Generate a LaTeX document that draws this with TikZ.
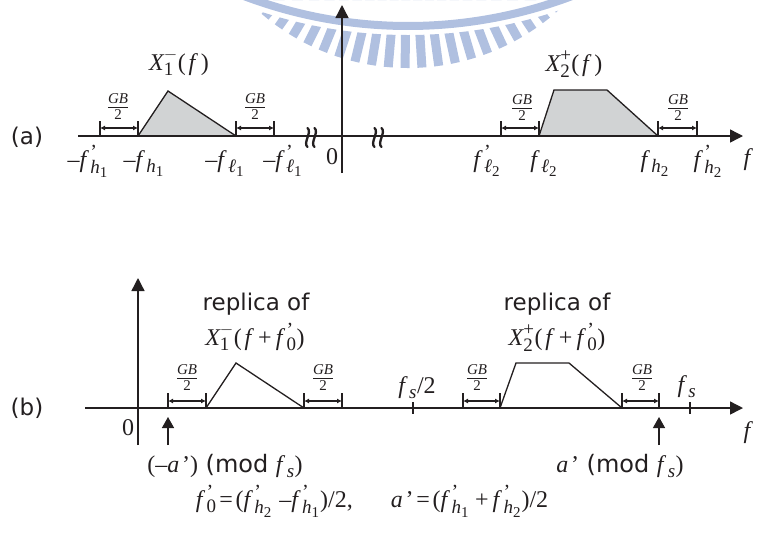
\documentclass[tikz,border=0pt]{standalone}
\usepackage[no-math]{fontspec}
\setmainfont{DejaVu Sans}
\newfontfamily\tmsfam{Liberation Serif}[NFSSFamily=ltms]
\DeclareSymbolFont{letters}{TU}{ltms}{m}{it}
\DeclareSymbolFont{operators}{TU}{ltms}{m}{n}
\mathcode`/="002F
\mathcode`,="602C
\Umathchardef\myell="0 "1 "2113
\DeclareMathSizes{24}{24}{19}{15}
\DeclareMathSizes{22}{22}{15}{12}
\newcommand\Ff{{f\mkern3mu}}
\newcommand\qq{\lower4pt\hbox{\tmsfam\fontsize{20}{20}\selectfont ’}}
\newcommand\aq{a\mkern2mu\hbox{\tmsfam ’}}
\newcommand\mm{\mathord{\hbox{\tmsfam –}}}
\usetikzlibrary{arrows.meta,calc}
\definecolor{ink}{RGB}{35,31,32}
\definecolor{specgray}{RGB}{209,211,212}
\definecolor{wmblue}{RGB}{176,192,224}
\begin{document}
\begin{tikzpicture}[x=1pt,y=-1pt,
  axisline/.style={draw=ink,line width=1.4pt,-{Triangle[length=13pt,width=13pt]}},
  upar/.style={draw=ink,line width=1.4pt,-{Triangle[length=11pt,width=12pt]}},
  tickmark/.style={draw=ink,line width=1.1pt},
  gbar/.style={draw=ink,line width=1.1pt,{Latex[length=5pt,width=5pt]}-{Latex[length=5pt,width=5pt]}},
  specline/.style={draw=ink,line width=1.3pt,line join=miter},
  brk/.style={draw=ink,line width=2.3pt,line cap=round},
  lbl/.style={anchor=base,inner sep=0pt,text=ink,font=\fontsize{24}{28}\selectfont},
  sanslbl/.style={anchor=base,inner sep=0pt,text=ink,font=\fontsize{23}{27}\selectfont},
  gbl/.style={anchor=base,inner sep=0pt,text=ink,font=\fontsize{22}{26}\selectfont},
  wm/.style={draw=wmblue}
]
\useasboundingbox (0,0) rectangle (760,547);
% ---------- watermark ----------
\coordinate (wb) at (408,-438);
\coordinate (wt) at (408,-157);
\begin{scope}
  \clip (0,0) rectangle (760,547);
  \draw[wm,line width=8pt] ($(wb)+(60:464)$) arc[start angle=60,end angle=120,radius=464];
\end{scope}
\begin{scope}[even odd rule]
  \clip (0,0) rectangle (760,547) (wb) circle[radius=473];
  \foreach \a in {47.75,52.05,...,133}
    \draw[wm,line width=9pt] ($(wt)+(\a:120)$) -- ($(wt)+(\a:225)$);
\end{scope}
% ---------- panel (a) ----------
\filldraw[specline,fill=specgray] (138,136) -- (168,91) -- (236,136) -- cycle;
\filldraw[specline,fill=specgray] (539,136) -- (554,90) -- (607,90) -- (658,136) -- cycle;
\coordinate (aL) at (78,136);
\coordinate (aR) at (743,136);
\coordinate (aB) at (342,173);
\coordinate (aT) at (342,5);
\draw[axisline] (aL) -- (aR);
\draw[axisline] (aB) -- (aT);
\foreach \x in {100,138,236,274,501,539,658,697}
  \draw[tickmark] (\x,121) -- (\x,136);
\draw[gbar] (100,128) -- (138,128);
\draw[gbar] (236,128) -- (274,128);
\draw[gbar] (501,128) -- (539,128);
\draw[gbar] (658,128) -- (697,128);
\foreach \bx in {311,378}
  \foreach \dx in {-3.5,3.5}
    \draw[brk] (\bx+\dx,128) .. controls (\bx+\dx+5,132) and (\bx+\dx-5,143) .. (\bx+\dx,147);
\node[gbl] (ga1) at (118,112) {$\frac{GB}{2}$};
\node[gbl] (ga2) at (255,112) {$\frac{GB}{2}$};
\node[gbl] (ga3) at (522,113) {$\frac{GB}{2}$};
\node[gbl] (ga4) at (678,113) {$\frac{GB}{2}$};
\node[lbl] (xa1) at (179,70) {$X_1^-(\mkern2mu f\mkern4mu)$};
\node[lbl] (xa2) at (574,71) {$X_2^+(\mkern2mu f\mkern4mu)$};
\node[lbl] (la1) at (88,167) {$\mm\Ff^{\qq}_{h_1}$};
\node[lbl] (la2) at (144,167) {$\mm\Ff_{h_1}$};
\node[lbl] (la3) at (225,167) {$\mm\Ff_{\myell_1}$};
\node[lbl] (la4) at (283,167) {$\mm\Ff^{\qq}_{\myell_1}$};
\node[lbl] (la5) at (487,167) {$\Ff^{\qq}_{\myell_2}$};
\node[lbl] (la6) at (544,167) {$\Ff_{\myell_2}$};
\node[lbl] (la7) at (655,167) {$\Ff_{h_2}$};
\node[lbl] (la8) at (708,167) {$\Ff^{\qq}_{h_2}$};
\node[lbl] (la9) at (747,165) {$f$};
\node[lbl] (za) at (332,164) {$0$};
\node[sanslbl] (pa) at (27,144) {(a)};
% ---------- panel (b) ----------
\draw[specline] (206,408) -- (236,363) -- (304,408);
\draw[specline] (500,408) -- (516,363) -- (569,363) -- (622,408);
\coordinate (bL) at (85,408);
\coordinate (bR) at (743,408);
\coordinate (bB) at (138,445);
\coordinate (bT) at (138,278);
\draw[axisline] (bL) -- (bR);
\draw[axisline] (bB) -- (bT);
\foreach \x in {168,206,304,342,463,500,622,659}
  \draw[tickmark] (\x,393) -- (\x,408);
\foreach \x in {413,690}
  \draw[tickmark] (\x,402) -- (\x,414);
\draw[gbar] (168,401) -- (206,401);
\draw[gbar] (304,401) -- (342,401);
\draw[gbar] (463,401) -- (500,401);
\draw[gbar] (622,401) -- (659,401);
\coordinate (u1b) at (168,445);
\coordinate (u1t) at (168,417);
\coordinate (u2b) at (659,445);
\coordinate (u2t) at (659,417);
\draw[upar] (u1b) -- (u1t);
\draw[upar] (u2b) -- (u2t);
\node[gbl] (gb1) at (187,383) {$\frac{GB}{2}$};
\node[gbl] (gb2) at (323,383) {$\frac{GB}{2}$};
\node[gbl] (gb3) at (477,383) {$\frac{GB}{2}$};
\node[gbl] (gb4) at (642,383) {$\frac{GB}{2}$};
\node[sanslbl] (r1) at (256,310) {replica of};
\node[sanslbl] (r2) at (557,310) {replica of};
\node[lbl] (xb1) at (255,345) {$X_1^-(\mkern2mu f\mkern5mu{+}\mkern3mu\Ff^{\qq}_0)$};
\node[lbl] (xb2) at (557,345) {$X_2^+(\mkern2mu f\mkern5mu{+}\mkern3mu\Ff^{\qq}_0)$};
\node[lbl] (fs2) at (417,393) {$\Ff_s/2$};
\node[lbl] (fs) at (687,392) {$\Ff_s$};
\node[lbl] (fb) at (747,438) {$f$};
\node[lbl] (zb) at (128,435) {$0$};
\node[sanslbl] (pb) at (27,415) {(b)};
\node[lbl] (ma1) at (225,472) {$(\mm\aq)$ (mod $\Ff_s)$};
\node[lbl] (ma2) at (620,472) {$\aq$ (mod $\Ff_s)$};
\node[lbl] (eq) at (372,507) {$\Ff^{\qq}_0\mkern2mu{=}\mkern2mu(\Ff^{\qq}_{h_2}\mkern5mu\mm\Ff^{\qq}_{h_1})/2,$\hspace{38pt}$\aq\mkern2mu{=}\mkern2mu(\Ff^{\qq}_{h_1}\mkern4mu{+}\mkern3mu\Ff^{\qq}_{h_2})/2$};
\end{tikzpicture}
\end{document}
